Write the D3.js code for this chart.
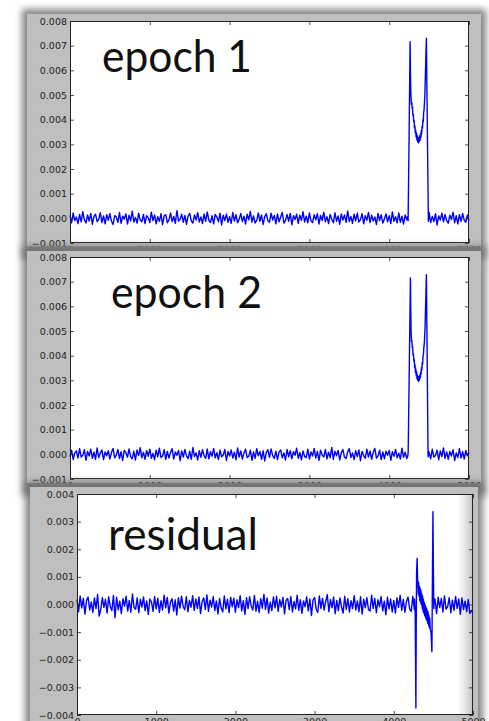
<!DOCTYPE html>
<html>
<head>
<meta charset="utf-8">
<script src="https://cdn.jsdelivr.net/npm/d3@7"></script>
<style>
  html, body { margin: 0; padding: 0; background: #fff; }
  svg { display: block; }
</style>
</head>
<body>
<svg id="chart" width="489" height="721"></svg>
<script>
// sample index on x, 0..5000
const xTicks = [0, 1000, 2000, 3000, 4000, 5000];
const epochTicks = [-0.001, 0, 0.001, 0.002, 0.003, 0.004, 0.005, 0.006, 0.007, 0.008];
const residualTicks = [-0.004, -0.003, -0.002, -0.001, 0, 0.001, 0.002, 0.003, 0.004];
const labels = ['epoch 1', 'epoch 2', 'residual'];

// readings are in units of 1e-5, baseline noise read every 20 samples
const UNIT = 1e-5;
const noiseStep = 20;

const epoch1Noise = [
  12, -18, 22, -9, 5, -21, 16, -14, 27, -6, -19, 14, -11, 20, -24, 8, 17, -13, -4, 23, -17, 10, -22, 15, -8,
  19, -12, -25, 11, 6, -16, 24, -20, 9, -3, 18, -23, 13, -10, 29, -15, 4, -19, 21, -7, -14, 16, -21, 11, 3,
  -17, 25, -9, 14, -22, 7, -12, 19, -26, 10, 15, -18, -6, 22, -13, 8, -20, 31, -11, -5, 17, -16, 12, -24, 9,
  20, -10, -19, 14, -7, 23, -15, 6, -21, 18, -12, 26, -8, -17, 11, -22, 16, 5, -14, 21, -27, 13, -9, 18, -16,
  7, -20, 24, -11, 15, -18, -4, 20, -13, 9, -23, 17, -6, 28, -15, 10, -19, -8, 22, -12, 14, -25, 6, 19, -10,
  -16, 21, -7, 12, -22, 18, -14, 5, 24, -19, -9, 16, -12, 20, -26, 11, -5, 17, -20, 13, -8, 27, -15, 9, -18,
  22, -11, -17, 15, -6, 19, -23, 12, -9, 25, -14, 7, -21, 16, -4, -18, 23, -12, 10, -24, 18, -7, 14, -16, 30,
  -13, 8, -20, 17, -10, 21, -15, -5, 19, -22, 11, -8, 24, -17, 13, -11, 6, -25, 20, -9, 15, -19, -3, 18, -14,
  11, -21, 26, -12, 7, -18, 22, -16, 9, -23, 14, -6, 20, -13, -8, 17, -24, 12, -10, 23, -15, 5, -20, 16, -11,
  24, -17, 8, -13, 19, -27, 10, -7, 21, -14, 16, -9, -20, 13, -5, 25, -18, 11, -22, 15, -12, 20, -8, -16, 14,
  -10
];
const epoch1Pulse = [
  [4232, 8], [4237, -10], [4250, 350], [4262, 716], [4266, 600], [4270, 520], [4274, 488],
  [4278, 462], [4283, 470], [4288, 446], [4292, 452], [4297, 418], [4302, 422], [4307, 392],
  [4312, 398], [4317, 366], [4322, 376], [4327, 346], [4332, 358], [4337, 330], [4342, 345],
  [4347, 318], [4352, 336], [4357, 310], [4362, 328], [4367, 306], [4372, 326], [4377, 312],
  [4382, 334], [4387, 316], [4392, 342], [4397, 328], [4402, 356], [4407, 342], [4412, 374],
  [4417, 366], [4422, 400], [4427, 392], [4432, 430], [4437, 440], [4442, 470], [4447, 500],
  [4452, 560], [4458, 640], [4466, 730], [4478, 360], [4491, -12], [4498, 14]
];

const epoch2Noise = [
  -9, 17, -21, 6, 14, -15, 23, -11, -4, 19, -24, 12, -7, 21, -16, 9, -20, 26, -13, 5, 18, -22, 10, -6, 15,
  -19, 8, 24, -14, -3, 20, -17, 11, -25, 16, 7, -12, 22, -9, -18, 13, -23, 18, -5, 27, -14, 9, -20, 15, -8,
  21, -16, 4, -22, 17, -10, 25, -13, -7, 19, -21, 12, -15, 8, 23, -19, 10, -4, 16, -26, 14, -11, 20, -6, -17,
  13, -20, 28, -9, 6, -23, 15, -12, 19, -5, -16, 22, -18, 11, -8, 24, -14, 7, -21, 17, -10, -3, 20, -25, 12,
  -7, 18, -15, 9, -22, 26, -11, 14, -19, 5, 21, -13, -8, 17, -24, 10, -16, 23, -6, 12, -20, 15, -27, 8, 19,
  -12, 22, -5, -17, 13, -21, 9, 18, -14, 6, -23, 20, -10, 15, -18, 11, -4, 25, -16, 8, -22, 14, -9, -13, 21,
  -19, 10, -7, 24, -15, 12, -25, 17, -3, -11, 20, -18, 9, -14, 28, -20, 13, -6, 16, -23, 7, 19, -12, -17, 11,
  23, -13, 6, -21, 15, -9, 18, -26, 12, -5, -16, 21, -11, 14, -20, 8, 24, -15, -7, 17, -22, 10, -18, 13, -4,
  16, -24, 11, -8, 20, -14, 5, -19, 25, -12, 9, -17, -6, 22, -15, 13, -21, 7, 18, -10, -23, 15, -9, 19, -13,
  8, -18, 21, -11, -5, 17, -22, 14, -9, 26, -16, 10, -20, 12, -7, 19, -25, 6, -13, 23, -15, 11, -19, 16, -6,
  9
];
const epoch2Pulse = [
  [4232, -8], [4238, 10], [4252, 360], [4266, 715], [4270, 590], [4274, 505], [4279, 458],
  [4284, 462], [4289, 432], [4294, 436], [4299, 402], [4304, 408], [4309, 378], [4314, 384],
  [4319, 352], [4324, 362], [4329, 332], [4334, 346], [4339, 318], [4344, 334], [4349, 306],
  [4354, 322], [4359, 300], [4364, 316], [4369, 296], [4374, 314], [4379, 302], [4384, 322],
  [4389, 310], [4394, 334], [4399, 324], [4404, 352], [4409, 342], [4414, 372], [4419, 366],
  [4424, 398], [4429, 404], [4434, 432], [4439, 446], [4444, 476], [4449, 510], [4455, 590],
  [4460, 650], [4466, 728], [4476, 380], [4487, -10], [4495, 12]
];

const residualNoise = [
  18, -26, 31, -12, 22, -35, 14, 27, -20, 9, -29, 24, -15, 36, -42, -18, 25, -10, 19, -31, 28, -8, -22, 33, -48,
  26, -19, 12, -33, 21, -6, 30, -24, 15, -28, 38, -11, -17, 24, -30, 19, -9, 27, -22, 13, -36, 20, 10, -25, 29,
  -16, 23, -29, 14, -20, 34, -12, 26, -31, 8, 21, -24, 17, -38, 25, -13, 30, -7, -19, 28, -26, 15, -10, 32, -21,
  20, -14, 27, -33, 11, 24, -18, 35, -25, 16, -9, 29, -22, 13, -34, 22, -12, -27, 31, -16, 19, -30, 26, -8, 23,
  -28, 17, -11, 32, -23, 14, -36, 25, -15, 28, -6, -20, 33, -24, 12, -29, 21, -13, 37, -18, 24, -31, 9, -22, 27,
  -12, 30, -25, 18, -9, 26, -34, 15, 22, -19, 29, -27, 11, -16, 34, -21, 17, -32, 13, -8, 28, -23, 20, -40, 16,
  25, -17, -29, 31, -14, 23, -20, 10, 36, -26, 18, -12, 27, -33, 15, -22, 24, -9, -31, 30, -18, 21, -27, 14, -15,
  32, -20, 13, -26, 28, -35, 19, -11, 25, -18, -24, 34, -14, 22, -30, 17, -8, 29, -23, 12, -37, 26, -16, 20, -27,
  15, -31, 24, -10, 33, -21, 18, -28, 11, 27, -16, -25, 30, -19, 14, -34, 23, -12, 28, -22, 16, -29, 35, -13, 21,
  -24, 19, -33, 26, -11, 22, -27, 31, -17, -8, 25, -30, 16, -21, 29, -14, 20, -36, 24, -18, 12, -26, 18, -32, -22,
  -30
];
const residualPulse = [
  [4262, 20], [4270, -25], [4279, -375], [4283, -80], [4288, 120], [4295, 167], [4300, 95],
  [4304, 82], [4309, 38], [4314, 80], [4319, 30], [4324, 66], [4329, 14], [4334, 58],
  [4339, 6], [4344, 50], [4349, -2], [4354, 38], [4359, -14], [4364, 30], [4369, -24],
  [4374, 18], [4379, -32], [4384, 8], [4389, -40], [4394, 0], [4399, -46], [4404, -8],
  [4409, -54], [4414, -14], [4419, -60], [4424, -22], [4429, -68], [4434, -28], [4439, -76],
  [4444, -40], [4449, -84], [4454, -50], [4460, -90], [4470, -100], [4481, -171], [4488, 100],
  [4494, 336], [4500, 120], [4505, -15], [4510, 20]
];

// merge baseline readings with the pulse readings that replace them
const buildSeries = (noise, pulse) => {
  const lo = pulse[0][0];
  const hi = pulse[pulse.length - 1][0];
  const base = noise.map((v, i) => [i * noiseStep, v]).filter(p => p[0] < lo || p[0] > hi);
  return base.concat(pulse)
    .sort((a, b) => a[0] - b[0])
    .map(p => ({sample: p[0], value: p[1] * UNIT}));
};

const panels = [
  {label: labels[0], data: buildSeries(epoch1Noise, epoch1Pulse), yTicks: epochTicks,
    box: {x: 27, y: 14, w: 454, h: 240}, clipH: 232.5,
    plot: {x: 70, y: 21, w: 399, h: 222}, text: {x: 102, y: 72, len: 150}},
  {label: labels[1], data: buildSeries(epoch2Noise, epoch2Pulse), yTicks: epochTicks,
    box: {x: 27, y: 251, w: 454, h: 240}, clipH: 232,
    plot: {x: 70, y: 257, w: 399, h: 222}, text: {x: 111, y: 308, len: 151}},
  {label: labels[2], data: buildSeries(residualNoise, residualPulse), yTicks: residualTicks,
    box: {x: 30, y: 487, w: 448, h: 250}, clipH: 250,
    plot: {x: 77, y: 494, w: 396, h: 221}, text: {x: 108, y: 550, len: 150}, fade: true},
];

const svg = d3.select('#chart');
const defs = svg.append('defs');

defs.append('filter').attr('id', 'shadow')
  .attr('x', '-20%').attr('y', '-20%').attr('width', '140%').attr('height', '140%')
  .append('feGaussianBlur').attr('stdDeviation', 3.5);

const fade = defs.append('linearGradient').attr('id', 'fade');
fade.append('stop').attr('offset', '0%').attr('stop-color', '#c8c8c8').attr('stop-opacity', 0);
fade.append('stop').attr('offset', '100%').attr('stop-color', '#b8b8b8').attr('stop-opacity', 0.85);

const fmt = d3.format('.3f');

panels.forEach((p, idx) => {
  const b = p.box;
  defs.append('clipPath').attr('id', `clip${idx}`)
    .append('rect').attr('x', b.x - 20).attr('y', b.y).attr('width', b.w + 40).attr('height', p.clipH);

  // shadow then grey figure background
  svg.append('rect')
    .attr('x', b.x - 5).attr('y', b.y - 5)
    .attr('width', b.w + 10).attr('height', b.h + 10)
    .attr('fill', '#6f6f6f').attr('opacity', 0.85)
    .attr('filter', 'url(#shadow)');

  const g = svg.append('g').attr('clip-path', `url(#clip${idx})`);
  g.append('rect')
    .attr('x', b.x).attr('y', b.y).attr('width', b.w).attr('height', b.h)
    .attr('fill', '#bfbfbf');

  const x = d3.scaleLinear().domain([0, 5000]).range([p.plot.x, p.plot.x + p.plot.w]);
  const y = d3.scaleLinear().domain(d3.extent(p.yTicks)).range([p.plot.y + p.plot.h, p.plot.y]);

  g.append('rect')
    .attr('x', p.plot.x).attr('y', p.plot.y).attr('width', p.plot.w).attr('height', p.plot.h)
    .attr('fill', '#fff');

  if (p.fade) {
    g.append('rect')
      .attr('x', p.plot.x + p.plot.w - 16).attr('y', p.plot.y)
      .attr('width', 16).attr('height', p.plot.h)
      .attr('fill', 'url(#fade)');
  }

  g.append('text')
    .attr('x', p.text.x).attr('y', p.text.y)
    .attr('textLength', p.text.len).attr('lengthAdjust', 'spacingAndGlyphs')
    .attr('font-family', 'Lato, Carlito, Calibri, sans-serif')
    .attr('font-size', 44)
    .attr('fill', '#111')
    .text(p.label);

  const line = d3.line().x(d => x(d.sample)).y(d => y(d.value));
  g.append('path')
    .datum(p.data)
    .attr('d', line)
    .attr('fill', 'none')
    .attr('stroke', '#0000ff')
    .attr('stroke-width', 1.4)
    .attr('stroke-linejoin', 'round');

  const styleAxis = sel => {
    sel.select('.domain').remove();
    sel.selectAll('line').attr('stroke', '#222').attr('stroke-width', 0.8);
    sel.selectAll('text')
      .attr('font-family', '"DejaVu Sans", sans-serif')
      .attr('font-size', 9.5)
      .attr('fill', '#222');
  };

  g.append('g')
    .attr('transform', `translate(${p.plot.x}, 0)`)
    .call(d3.axisLeft(y).tickValues(p.yTicks).tickFormat(fmt).tickSize(-4).tickPadding(3))
    .call(styleAxis);
  g.append('g')
    .attr('transform', `translate(${p.plot.x + p.plot.w}, 0)`)
    .call(d3.axisRight(y).tickValues(p.yTicks).tickFormat('').tickSize(-4))
    .call(styleAxis);
  g.append('g')
    .attr('transform', `translate(0, ${p.plot.y})`)
    .call(d3.axisTop(x).tickValues(xTicks).tickFormat('').tickSize(-4))
    .call(styleAxis);
  g.append('g')
    .attr('transform', `translate(0, ${p.plot.y + p.plot.h})`)
    .call(d3.axisBottom(x).tickValues(xTicks).tickFormat(d3.format('d')).tickSize(-4).tickPadding(3))
    .call(styleAxis);

  g.append('rect')
    .attr('x', p.plot.x + 0.5).attr('y', p.plot.y + 0.5)
    .attr('width', p.plot.w - 1).attr('height', p.plot.h - 1)
    .attr('fill', 'none').attr('stroke', '#222').attr('stroke-width', 1);
});
</script>
</body>
</html>
